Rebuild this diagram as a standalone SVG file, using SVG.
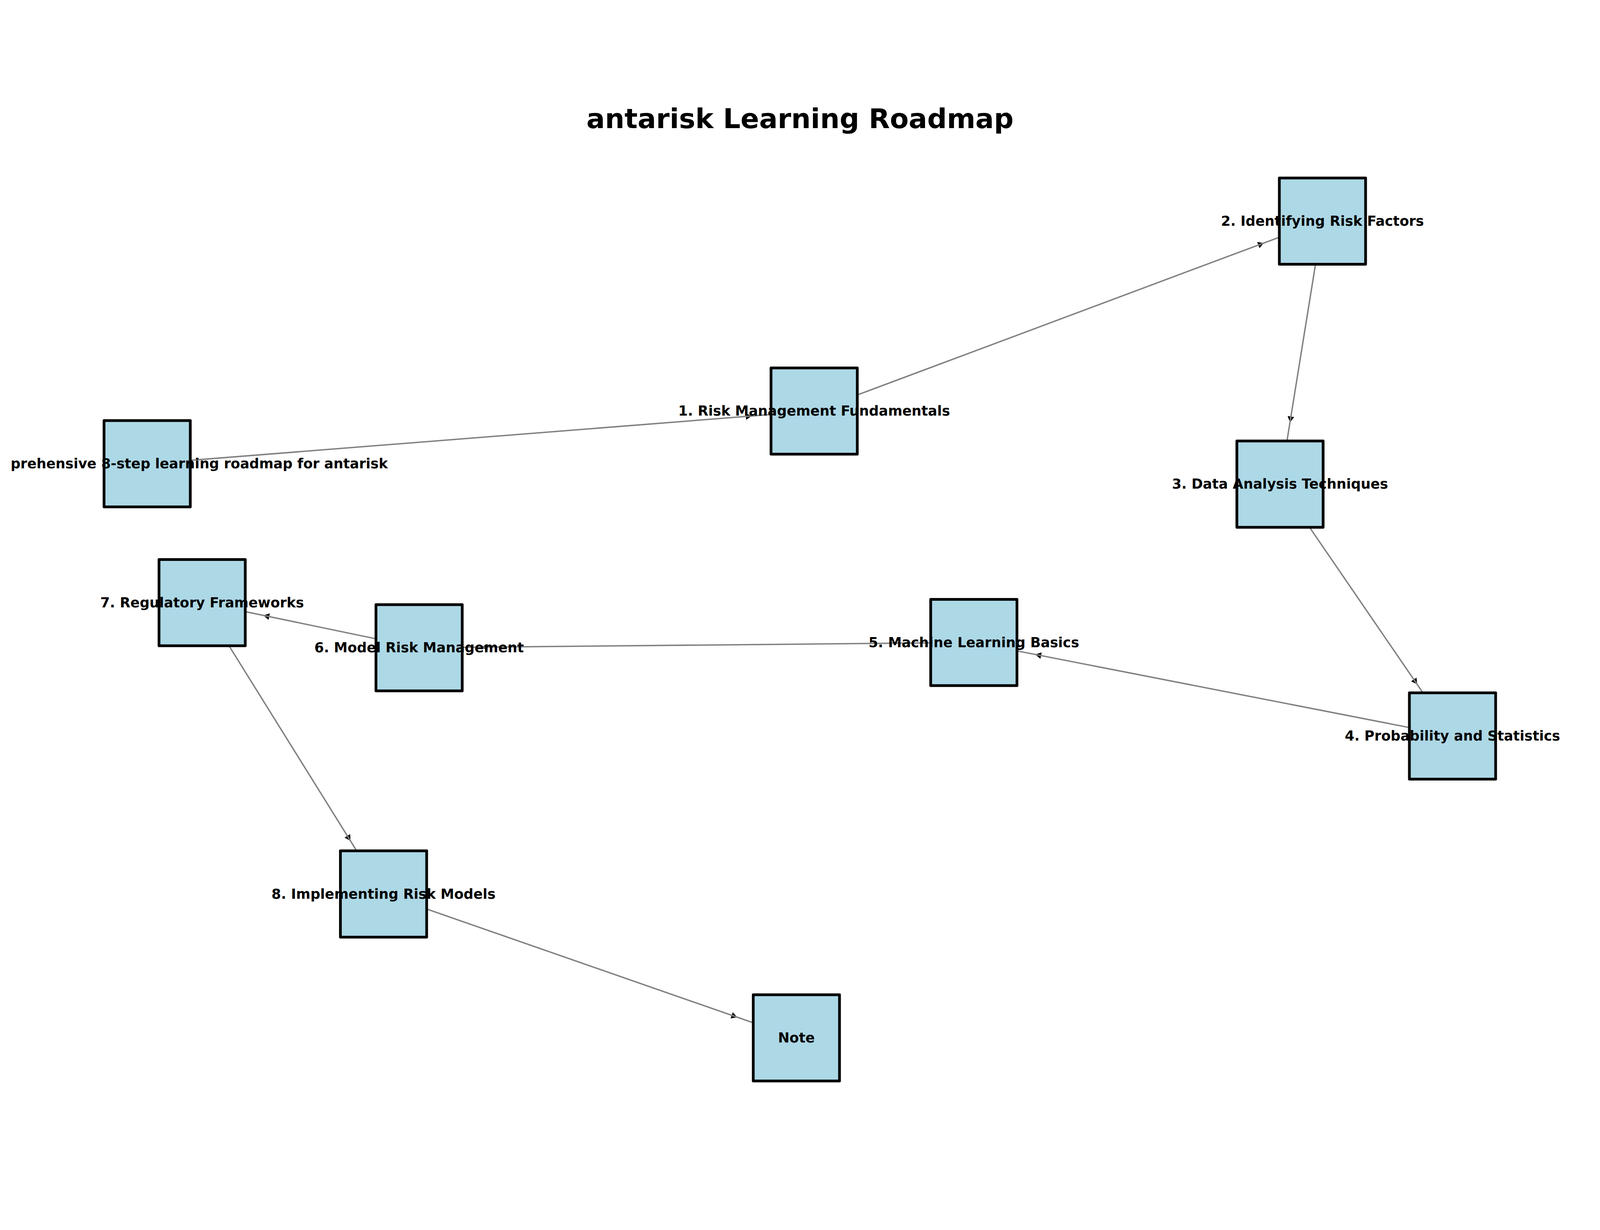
<svg xmlns="http://www.w3.org/2000/svg" width="4860" height="3149" viewBox="0 0 4860 3149">
<style>
svg:root{width:100vw;height:100vh}
.edge{stroke:#808080;stroke-width:4.2;fill:none}
.head{fill:#000000;stroke:none}
.box{fill:#ADD8E6;stroke:#000000;stroke-width:8.3;stroke-linejoin:round}
.lbl{font-family:"DejaVu Sans","Liberation Sans",sans-serif;font-weight:bold;font-size:41.67px;fill:#000000;text-anchor:middle}
.title{font-family:"DejaVu Sans","Liberation Sans",sans-serif;font-weight:bold;font-size:83.3px;fill:#000000;text-anchor:middle}
</style>
<rect x="0" y="0" width="4860" height="3149" fill="#ffffff"/>
<text class="title" x="2430" y="95">antarisk Learning Roadmap</text>
<g id="connectors">
<polygon class="head" points="2283.6,970.0 2266.4,981.4 2264.8,961.4"/>
<line class="edge" x1="447" y1="1115" x2="2473" y2="955"/>
<polygon class="head" points="3839.0,444.5 3825.6,460.2 3818.6,441.4"/>
<line class="edge" x1="2473" y1="955" x2="4017" y2="378"/>
<polygon class="head" points="3918.3,989.4 3911.3,970.1 3931.1,973.3"/>
<line class="edge" x1="4017" y1="378" x2="3888" y2="1177"/>
<polygon class="head" points="4304.6,1785.2 4286.2,1776.0 4302.7,1764.7"/>
<line class="edge" x1="3888" y1="1177" x2="4412" y2="1942"/>
<polygon class="head" points="3144.5,1694.4 3164.1,1688.1 3160.3,1707.7"/>
<line class="edge" x1="4412" y1="1942" x2="2958" y2="1658"/>
<polygon class="head" points="1463.0,1672.2 1480.9,1662.0 1481.1,1682.0"/>
<line class="edge" x1="2958" y1="1658" x2="1273" y2="1674"/>
<polygon class="head" points="800.0,1575.7 819.7,1569.6 815.6,1589.2"/>
<line class="edge" x1="1273" y1="1674" x2="614" y2="1537"/>
<polygon class="head" points="1064.6,2260.7 1046.6,2250.7 1063.6,2240.1"/>
<line class="edge" x1="614" y1="1537" x2="1165" y2="2422"/>
<polygon class="head" points="2239.6,2796.5 2219.3,2800.0 2225.9,2781.2"/>
<line class="edge" x1="1165" y1="2422" x2="2419" y2="2859"/>
</g>
<g id="node0">
<rect class="box" x="316" y="984" width="262" height="262"/>
<text class="lbl" x="1178" y="1129" style="text-anchor:end">prehensive 8-step learning roadmap for antarisk</text>
</g>
<g id="node1">
<rect class="box" x="2342" y="824" width="262" height="262"/>
<text class="lbl" x="2473" y="969">1. Risk Management Fundamentals</text>
</g>
<g id="node2">
<rect class="box" x="3886" y="247" width="262" height="262"/>
<text class="lbl" x="4017" y="392">2. Identifying Risk Factors</text>
</g>
<g id="node3">
<rect class="box" x="3757" y="1046" width="262" height="262"/>
<text class="lbl" x="3888" y="1191">3. Data Analysis Techniques</text>
</g>
<g id="node4">
<rect class="box" x="4281" y="1811" width="262" height="262"/>
<text class="lbl" x="4412" y="1956">4. Probability and Statistics</text>
</g>
<g id="node5">
<rect class="box" x="2827" y="1527" width="262" height="262"/>
<text class="lbl" x="2958" y="1672">5. Machine Learning Basics</text>
</g>
<g id="node6">
<rect class="box" x="1142" y="1543" width="262" height="262"/>
<text class="lbl" x="1273" y="1688">6. Model Risk Management</text>
</g>
<g id="node7">
<rect class="box" x="483" y="1406" width="262" height="262"/>
<text class="lbl" x="614" y="1551">7. Regulatory Frameworks</text>
</g>
<g id="node8">
<rect class="box" x="1034" y="2291" width="262" height="262"/>
<text class="lbl" x="1165" y="2436">8. Implementing Risk Models</text>
</g>
<g id="node9">
<rect class="box" x="2288" y="2728" width="262" height="262"/>
<text class="lbl" x="2419" y="2873">Note</text>
</g>
</svg>
